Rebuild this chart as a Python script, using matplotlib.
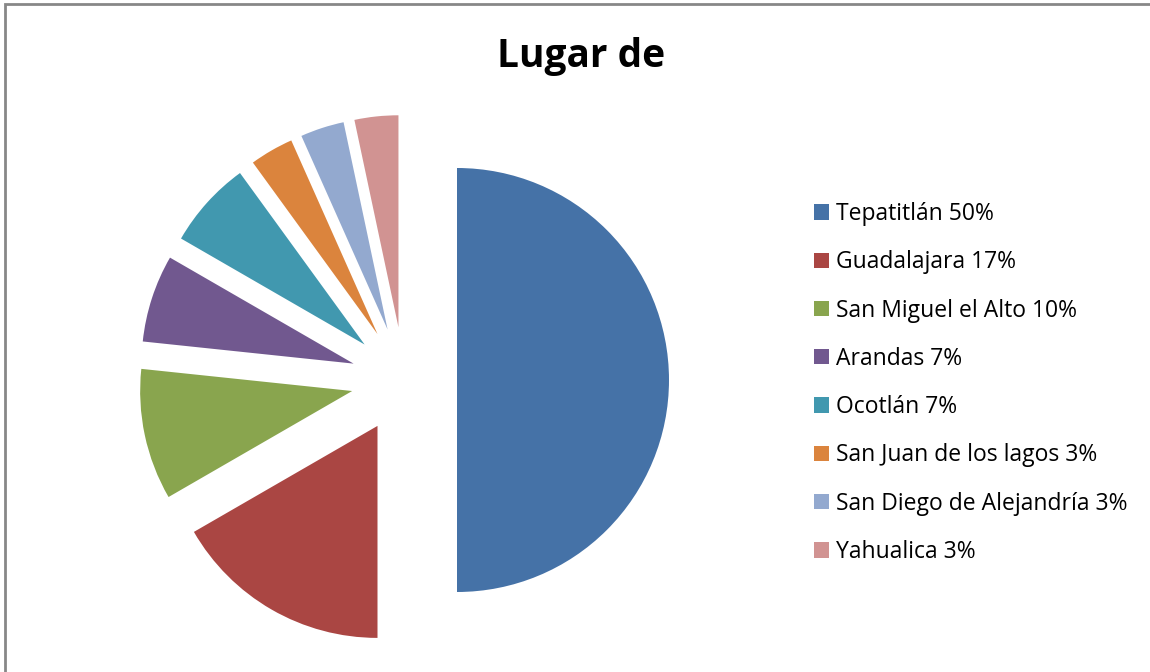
import matplotlib.pyplot as plt
from matplotlib.patches import Rectangle

# data
places = ["Tepatitlán", "Guadalajara", "San Miguel el Alto", "Arandas", "Ocotlán",
          "San Juan de los lagos", "San Diego de Alejandría", "Yahualica"]
counts = [15, 5, 3, 2, 2, 1, 1, 1]
pct_labels = ["50%", "17%", "10%", "7%", "7%", "3%", "3%", "3%"]
colors = ["#4572A7", "#AA4643", "#89A54E", "#71588F", "#4198AF",
          "#DB843D", "#93A9CF", "#D19392"]

W, H = 1150, 672
fig = plt.figure(figsize=(W / 100, H / 100), dpi=100)
ax = fig.add_axes([0, 0, 1, 1])

# pie centre / radius in pixels
cx, cy, r = 404, 380, 212
ax.axis('off')

wedges, _ = ax.pie(counts, colors=colors, startangle=90, counterclock=False,
                   explode=[0.25] * len(counts),
                   wedgeprops=dict(linewidth=0))
ax.set_xlim(-cx / r, (W - cx) / r)
ax.set_ylim(-(H - cy) / r, cy / r)
ax.set_aspect('auto')

# chart border
fig.add_artist(Rectangle((5 / W, -0.1), 1.2, (H - 4) / H + 0.1,
                         transform=fig.transFigure, fill=False,
                         edgecolor="#878787", linewidth=2))

fig.text(581 / W, 1 - 57 / H, "Lugar de", ha='center', va='center',
         fontsize=28, fontweight='bold', family='Open Sans')

labels = [p + " " + s for p, s in zip(places, pct_labels)]
leg = fig.legend(wedges, labels, loc='upper left',
                 bbox_to_anchor=(814 / W, 1 - 202 / H),
                 frameon=False, prop={'family': 'Open Sans', 'size': 16.5},
                 handlelength=0.65, handleheight=0.65, handletextpad=0.3,
                 labelspacing=1.06, borderaxespad=0, borderpad=0)

fig.savefig("out.png", dpi=100)
